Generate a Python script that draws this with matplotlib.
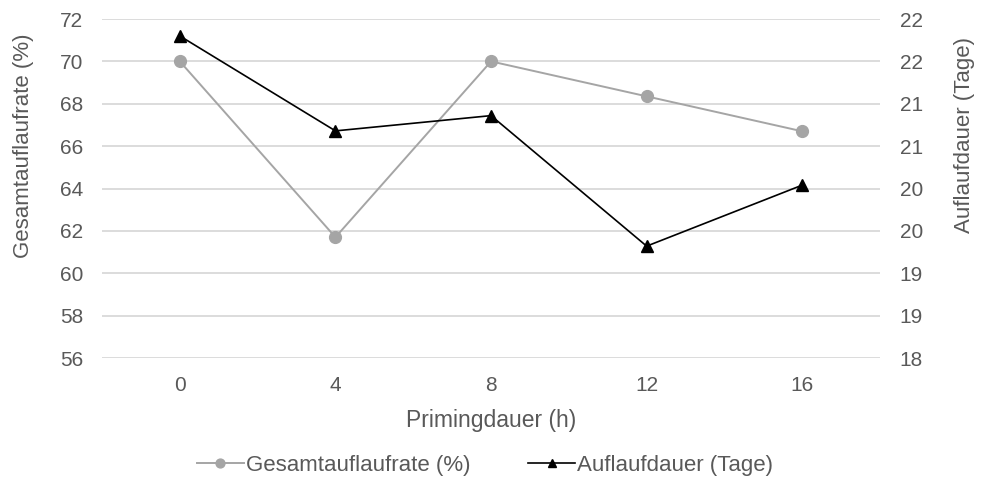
import matplotlib
matplotlib.use('Agg')
import matplotlib.pyplot as plt
from matplotlib.ticker import FuncFormatter

# data
priming = ['0', '4', '8', '12', '16']
gesamtauflaufrate = [70.0, 61.7, 70.0, 68.35, 66.7]
auflaufdauer = [21.8, 20.68, 20.86, 19.32, 20.04]

plt.rcParams['font.family'] = ['Liberation Sans', 'DejaVu Sans']
txt = '#595959'
grid = '#d9d9d9'

fig = plt.figure(figsize=(9.82, 4.79), dpi=100)
ax = fig.add_axes([0.1039, 0.2526, 0.7923, 0.7077])
ax2 = ax.twinx()

x = list(range(len(priming)))
l1, = ax.plot(x, gesamtauflaufrate, color='#a5a5a5', lw=1.4, marker='o', ms=8.5,
              label='Gesamtauflaufrate (%)')
l2, = ax2.plot(x, auflaufdauer, color='#000000', lw=1.2, marker='^', ms=8,
               label='Auflaufdauer (Tage)')

ax.set_xlim(-0.5, 4.5)
ax.set_ylim(56, 72)
ax.set_yticks(range(56, 73, 2))
ax2.set_ylim(18, 22)
ax2.set_yticks([18 + 0.5 * i for i in range(9)])
# right axis ticks every 0.5, shown rounded to whole days
ax2.yaxis.set_major_formatter(FuncFormatter(lambda v, p: '%d' % int(v + 0.5)))
ax.set_xticks(x)
ax.set_xticklabels(priming)

ax.yaxis.grid(True, color=grid, lw=1.3)
ax.set_axisbelow(True)
for a in (ax, ax2):
    for s in a.spines.values():
        s.set_visible(False)
    a.tick_params(length=0, labelsize=15, colors=txt)
ax.tick_params(axis='y', pad=13.5)
ax2.tick_params(axis='y', pad=14)
ax.tick_params(axis='x', pad=13)

ax.set_ylabel('Gesamtauflaufrate (%)', fontsize=16, color=txt, va='center')
ax.yaxis.set_label_coords(-0.1015, 0.625)
ax2.set_ylabel('Auflaufdauer (Tage)', fontsize=16, color=txt, va='center')
ax2.yaxis.set_label_coords(1.109, 0.658)
ax.set_xlabel('Primingdauer (h)', fontsize=16.5, color=txt, va='center')
ax.xaxis.set_label_coords(0.5, -0.183)

fig.legend(handles=[l1, l2], loc='center', bbox_to_anchor=(0.494, 0.029),
           ncol=2, frameon=False, fontsize=16, labelcolor=txt,
           handlelength=2.1, handletextpad=0.1, columnspacing=2.6, markerscale=0.75)

fig.savefig('out.png', dpi=100)
